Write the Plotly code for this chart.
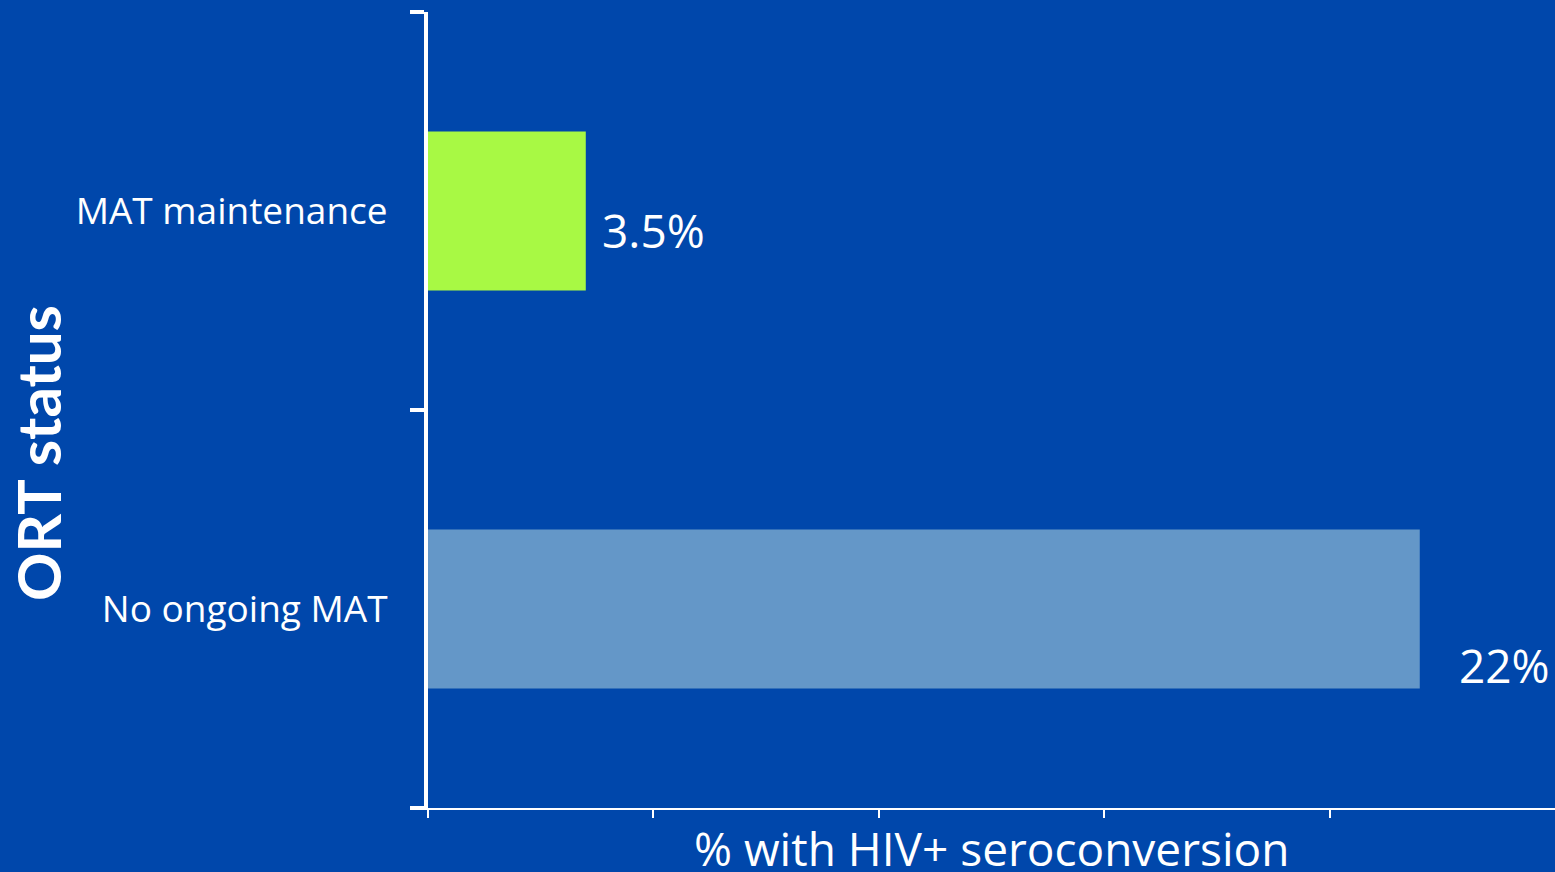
import plotly.graph_objects as go

categories = ["MAT maintenance", "No ongoing MAT"]
values = [3.5, 22]
value_labels = ["3.5%", "22%"]
bar_colors = ["#A8F944", "#6497C8"]
x_ticks = [0, 5, 10, 15, 20]
x_title = "% with HIV+ seroconversion"
y_title = "ORT status"

BG = "#0047AB"
FONT = "Open Sans"

fig = go.Figure()
fig.add_trace(go.Bar(
    y=categories, x=values, orientation="h",
    marker=dict(color=bar_colors, line=dict(width=0)),
    width=0.4, hoverinfo="skip",
))

annotations = []
shifts = [(14, -19), (37, -56)]
for cat, v, lab, (dx, dy) in zip(categories, values, value_labels, shifts):
    annotations.append(dict(x=v, y=cat, text=lab, showarrow=False, xanchor="left",
                            yanchor="middle", xshift=dx, yshift=dy,
                            font=dict(family=FONT, size=46, color="white")))
annotations.append(dict(x=0.5, xref="paper", y=0, yref="paper", yanchor="middle", yshift=-40,
                        text=x_title, showarrow=False,
                        font=dict(family=FONT, size=46, color="white")))
annotations.append(dict(x=0, xref="paper", xanchor="center", xshift=-390, y=0.446, yref="paper",
                        yanchor="middle", text="<b>" + y_title + "</b>", textangle=-90,
                        showarrow=False, font=dict(family="Lato", size=60, color="white")))

fig.update_layout(
    width=1555, height=872,
    paper_bgcolor=BG, plot_bgcolor=BG,
    margin=dict(l=428, r=0, t=12, b=64),
    showlegend=False,
    font=dict(family=FONT, color="white"),
    annotations=annotations,
)

fig.update_xaxes(
    range=[0, 25], tickvals=x_ticks, showticklabels=False,
    showgrid=False, zeroline=False,
    showline=True, linecolor="white", linewidth=2,
    ticks="outside", ticklen=8, tickwidth=2, tickcolor="white",
)
fig.update_yaxes(
    type="category", categoryorder="array", categoryarray=categories[::-1],
    tickson="boundaries", showgrid=False, zeroline=False,
    showline=True, linecolor="white", linewidth=4,
    ticks="outside", ticklen=14, tickwidth=4, tickcolor="white",
    tickfont=dict(family=FONT, size=37, color="white"),
    ticklabelstandoff=29,
)

fig.write_html("out.html", config={"displayModeBar": False},
               post_script="document.body.style.margin='0';document.body.style.overflow='hidden';")
